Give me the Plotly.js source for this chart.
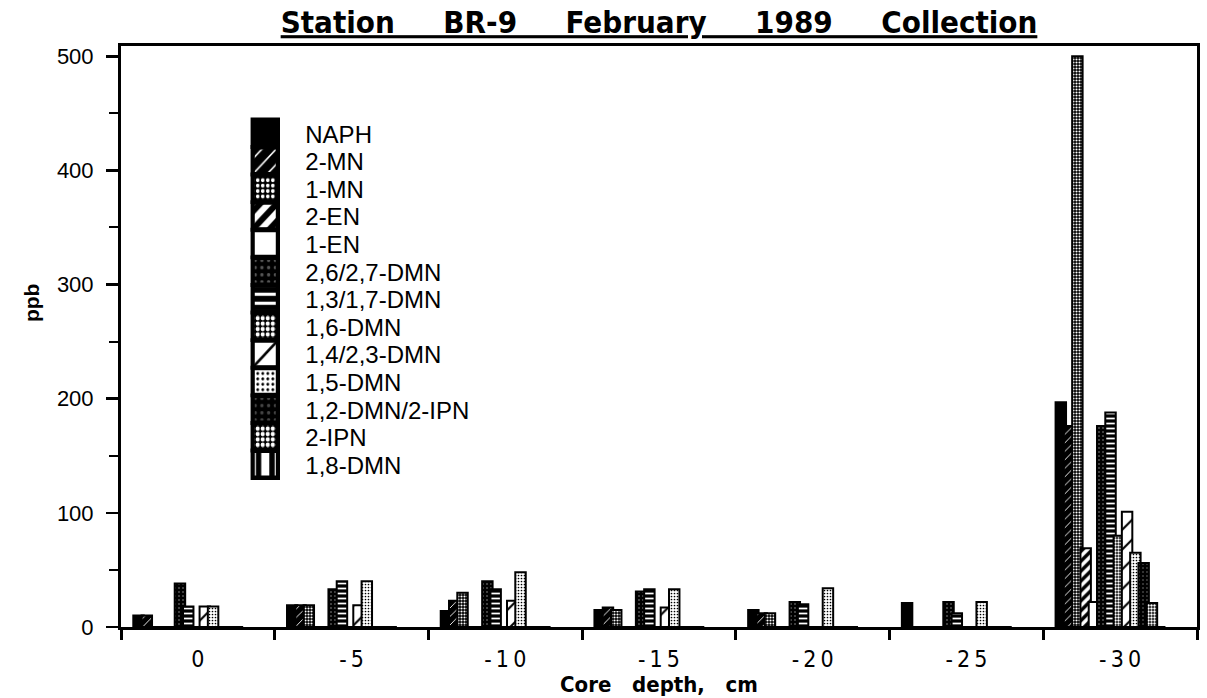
<!DOCTYPE html>
<html>
<head>
<meta charset="utf-8">
<script src="https://cdn.plot.ly/plotly-3.0.1.min.js"></script>
<style>
  html, body { margin: 0; padding: 0; background: #fff; }
  #chart { width: 1207px; height: 698px; }
</style>
</head>
<body>
<div id="chart"></div>
<script>
// ---- data (ppb) ----
var categories = ['0', '-5', '-10', '-15', '-20', '-25', '-30'];
var seriesNames = ['NAPH', '2-MN', '1-MN', '2-EN', '1-EN', '2,6/2,7-DMN', '1,3/1,7-DMN',
                   '1,6-DMN', '1,4/2,3-DMN', '1,5-DMN', '1,2-DMN/2-IPN', '2-IPN', '1,8-DMN'];
var NAPH      = [10, 19, 14, 15, 15, 21, 197];
var MN2       = [10, 19, 23, 17, 12, 0, 176];
var MN1       = [0, 19, 30, 15, 12, 0, 500];
var EN2       = [0, 0, 0, 0, 0, 0, 69];
var EN1       = [0, 0, 0, 0, 0, 0, 22];
var DMN26_27  = [38, 33, 40, 31, 22, 22, 176];
var DMN13_17  = [18, 40, 33, 33, 20, 12, 188];
var DMN16     = [0, 0, 0, 0, 0, 0, 80];
var DMN14_23  = [18, 19, 23, 17, 0, 0, 101];
var DMN15     = [18, 40, 48, 33, 34, 22, 65];
var DMN12_IPN = [0, 0, 0, 0, 0, 0, 56];
var IPN2      = [0, 0, 0, 0, 0, 0, 21];
var DMN18     = [0, 0, 0, 0, 0, 0, 0];
var yTickVals = [0, 100, 200, 300, 400, 500];

var seriesValues = [NAPH, MN2, MN1, EN2, EN1, DMN26_27, DMN13_17, DMN16, DMN14_23, DMN15, DMN12_IPN, IPN2, DMN18];

// ---- styles (fill patterns imitating the old monochrome chart) ----
var styles = [
  {color: '#000'},
  {pattern: {shape: '/', fgcolor: '#fff', bgcolor: '#000', size: 6, solidity: 0.15}},
  {pattern: {shape: '.', fgcolor: '#fff', bgcolor: '#000', size: 3, solidity: 0.4}},
  {pattern: {shape: '/', fgcolor: '#000', bgcolor: '#fff', size: 7, solidity: 0.5}},
  {color: '#fff'},
  {pattern: {shape: '.', fgcolor: '#555', bgcolor: '#000', size: 4, solidity: 0.2}},
  {pattern: {shape: '-', fgcolor: '#fff', bgcolor: '#000', size: 5, solidity: 0.35}},
  {pattern: {shape: '.', fgcolor: '#fff', bgcolor: '#000', size: 3, solidity: 0.5}},
  {pattern: {shape: '/', fgcolor: '#000', bgcolor: '#fff', size: 14, solidity: 0.15}},
  {pattern: {shape: '.', fgcolor: '#000', bgcolor: '#fff', size: 3, solidity: 0.25}},
  {pattern: {shape: '.', fgcolor: '#444', bgcolor: '#000', size: 4, solidity: 0.2}},
  {pattern: {shape: '.', fgcolor: '#fff', bgcolor: '#000', size: 3, solidity: 0.5}},
  {pattern: {shape: '|', fgcolor: '#000', bgcolor: '#fff', size: 8, solidity: 0.4}}
];

var SLOT = 0.0539;          // slot step (category units)
var FIRST = -0.5 + 0.08;    // left edge of the first slot
var BARW = 0.068;           // drawn bar width (slight overlap)

var data = seriesNames.map(function (name, i) {
  var st = styles[i];
  var marker = {color: st.color || st.pattern.bgcolor, line: {color: '#000', width: 2}};
  if (st.pattern) marker.pattern = Object.assign({fillmode: 'replace'}, st.pattern);
  return {
    type: 'bar', name: name, x: categories, y: seriesValues[i],
    offset: FIRST + i * SLOT, width: BARW, marker: marker,
    hoverinfo: 'name+y'
  };
});

var condensed = '"DejaVu Sans Condensed", "DejaVu Sans", sans-serif';
var helv = '"Liberation Sans", Arial, sans-serif';
var sp = '\u00a0\u00a0\u00a0\u00a0\u00a0';
var sp2 = '\u00a0\u00a0\u00a0';

var layout = {
  width: 1207, height: 698,
  margin: {l: 121, r: 10, t: 46, b: 71, pad: 0},
  paper_bgcolor: '#fff', plot_bgcolor: '#fff',
  barmode: 'overlay',
  showlegend: true,
  title: {
    text: '<b><u>Station' + sp + 'BR-9' + sp + 'February' + sp + '1989' + sp + 'Collection</u></b>',
    x: 0.5, xref: 'paper', xanchor: 'center',
    y: 0.968, yref: 'container', yanchor: 'middle',
    font: {family: condensed, size: 31, color: '#000'}
  },
  xaxis: {
    type: 'category', range: [-0.5, 6.5],
    tickson: 'boundaries', ticks: 'outside', ticklen: 10, tickwidth: 3, tickcolor: '#000',
    showline: true, linewidth: 3, linecolor: '#000', mirror: true,
    showgrid: false, zeroline: false,
    tickvals: categories,
    ticktext: categories.map(function (c) { return c.split('').join('\u2009'); }),
    tickfont: {family: condensed, size: 23, color: '#000'},
    ticklabelstandoff: 9,
    title: {text: '<b>Core' + sp2 + 'depth,' + sp2 + 'cm</b>', font: {family: condensed, size: 22, color: '#000'}, standoff: 0}
  },
  yaxis: {
    range: [0, 509],
    tickvals: yTickVals,
    ticks: 'outside', ticklen: 12, tickwidth: 2.5, tickcolor: '#000',
    minor: {dtick: 50, ticks: 'outside', ticklen: 9, tickwidth: 2, tickcolor: '#000', showgrid: false},
    showline: true, linewidth: 3, linecolor: '#000', mirror: true,
    showgrid: false, zeroline: false,
    tickfont: {family: helv, size: 22, color: '#000'},
    ticklabelstandoff: 8
  },
  annotations: [{
    text: '<b>ppb</b>', textangle: -90, showarrow: false,
    xref: 'paper', x: -0.083, xanchor: 'center',
    yref: 'paper', y: 0.557, yanchor: 'middle',
    font: {family: helv, size: 21, color: '#000'}
  }],
  legend: {
    x: 0.1155, xref: 'paper', xanchor: 'left',
    y: 0.888, yref: 'paper', yanchor: 'top',
    bgcolor: 'rgba(0,0,0,0)', borderwidth: 0,
    itemwidth: 50, traceorder: 'normal',
    font: {family: helv, size: 24, color: '#000'}
  }
};

var ITEM_STEP = 27.6;
var gd = document.getElementById('chart');
Plotly.newPlot(gd, data, layout, {staticPlot: true, displayModeBar: false}).then(function () {
  var items = gd.querySelectorAll('.legend .traces');
  var y0 = null;
  items.forEach(function (el, i) {
    var t = el.getAttribute('transform') || '';
    var m = /translate\(\s*([-\d.e]+)[ ,]+([-\d.e]+)\s*\)/.exec(t);
    if (!m) return;
    var x = +m[1], y = +m[2];
    if (y0 === null) y0 = y;
    el.setAttribute('transform', 'translate(' + x + ',' + (y0 + i * ITEM_STEP) + ')');
    el.querySelectorAll('.legendpoints path').forEach(function (p) {
      p.setAttribute('transform', 'translate(20,0) scale(2.1,2.25)');
    });
  });
});
</script>
</body>
</html>
